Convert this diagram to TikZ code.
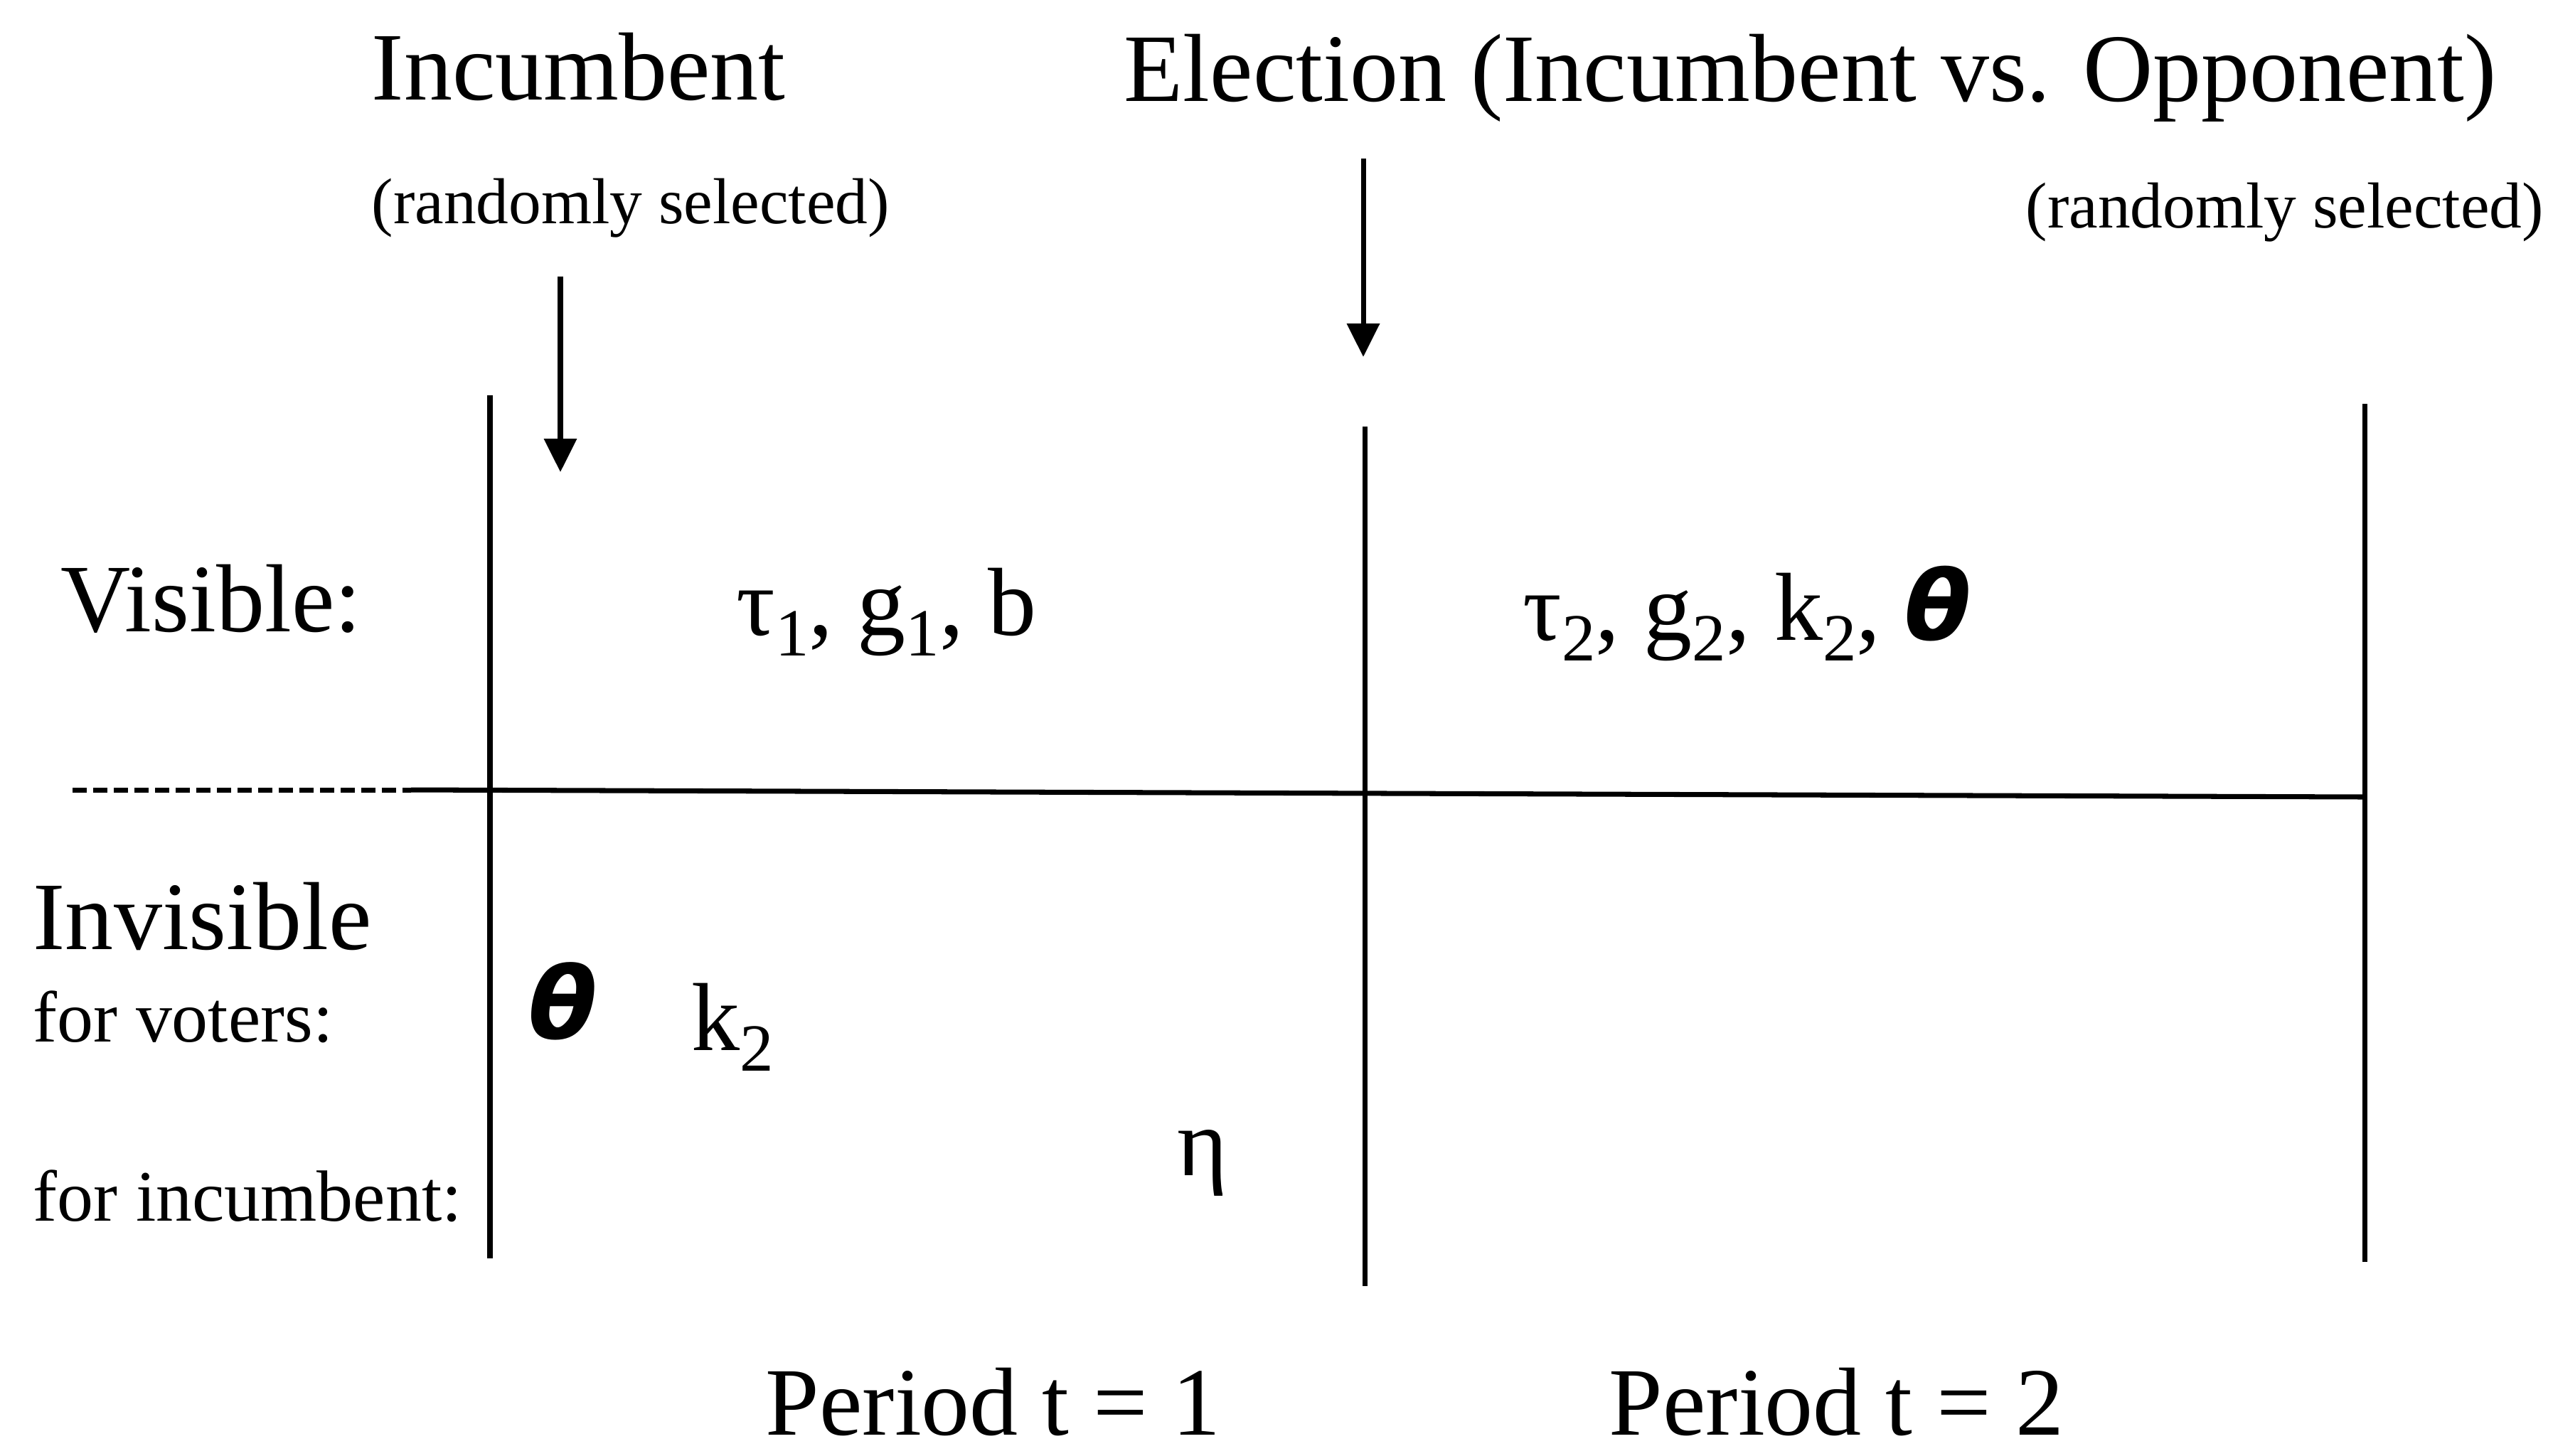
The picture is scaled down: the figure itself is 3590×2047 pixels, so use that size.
\documentclass[tikz,border=0pt]{standalone}
\usepackage{fontspec}
\setmainfont{Liberation Serif}
\newfontfamily\thetafont{DejaVu Sans}
\usetikzlibrary{arrows.meta}
\newcommand{\lowsub}[1]{\raisebox{-0.22em}{\fontsize{27}{32}\selectfont #1}}
\newcommand{\thet}{{\thetafont\bfseries\itshape θ}}
\tikzset{
  big/.style={font=\fontsize{38.7}{46}\selectfont, inner sep=0pt, anchor=base west},
  small/.style={font=\fontsize{26}{31}\selectfont, inner sep=0pt, anchor=base west},
  mid/.style={font=\fontsize{29}{35}\selectfont, inner sep=0pt, anchor=base west},
  sym/.style={font=\fontsize{40}{48}\selectfont, inner sep=0pt},
  rule/.style={line width=2pt},
  flow/.style={-{Triangle[length=4.7mm, width=4.5mm]}, line width=2pt},
}

\begin{document}
\begin{tikzpicture}[x=0.1mm, y=-0.1mm]
  \useasboundingbox (0,0) rectangle (3590,2047);
  % headings
  \node[big] (inc) at (522,140) {Incumbent};
  \node[small] (incrand) at (522,314) {(randomly selected)};
  \node[big] (elec) at (1580,142) {Election (Incumbent vs. Opponent)};
  \node[small] (opprand) at (2848,320) {(randomly selected)};
  \coordinate (incTop) at (788,389);
  \coordinate (incTip) at (788,664);
  \coordinate (elecTop) at (1917,223);
  \coordinate (elecTip) at (1917,502);
  \draw[flow] (incTop) -- (incTip);
  \draw[flow] (elecTop) -- (elecTip);
  % grid
  \draw[rule] (689,556) -- (689,1770);
  \draw[rule] (1919,600) -- (1919,1809);
  \draw[rule] (3325,568) -- (3325,1775);
  \draw[rule, dash pattern=on 2mm off 0.9mm] (102,1111) -- (578,1111);
  \draw[rule] (578,1111) -- (3325,1121);
  % rows
  \node[big] (vis) at (85,888) {Visible:};
  \node[big] (visone) at (1035,893) {τ\lowsub{1}, g\lowsub{1}, b};
  \node[big] (vistwo) at (2141,900) {τ\lowsub{2}, g\lowsub{2}, k\lowsub{2}, \thet};
  \node[big] (invis) at (46,1335) {Invisible};
  \node[mid] (voters) at (46,1465) {for voters:};
  \node[mid] (incumb) at (46,1717) {for incumbent:};
  \node[sym] (theta) at (792,1408) {\thet};
  \node[big] (kay) at (972,1477) {k\lowsub{2}};
  \node[big] (eta) at (1655,1653) {η};
  % periods
  \node[big] (perone) at (1076,2018) {Period t = 1};
  \node[big] (pertwo) at (2262,2018) {Period t = 2};
\end{tikzpicture}
\end{document}
